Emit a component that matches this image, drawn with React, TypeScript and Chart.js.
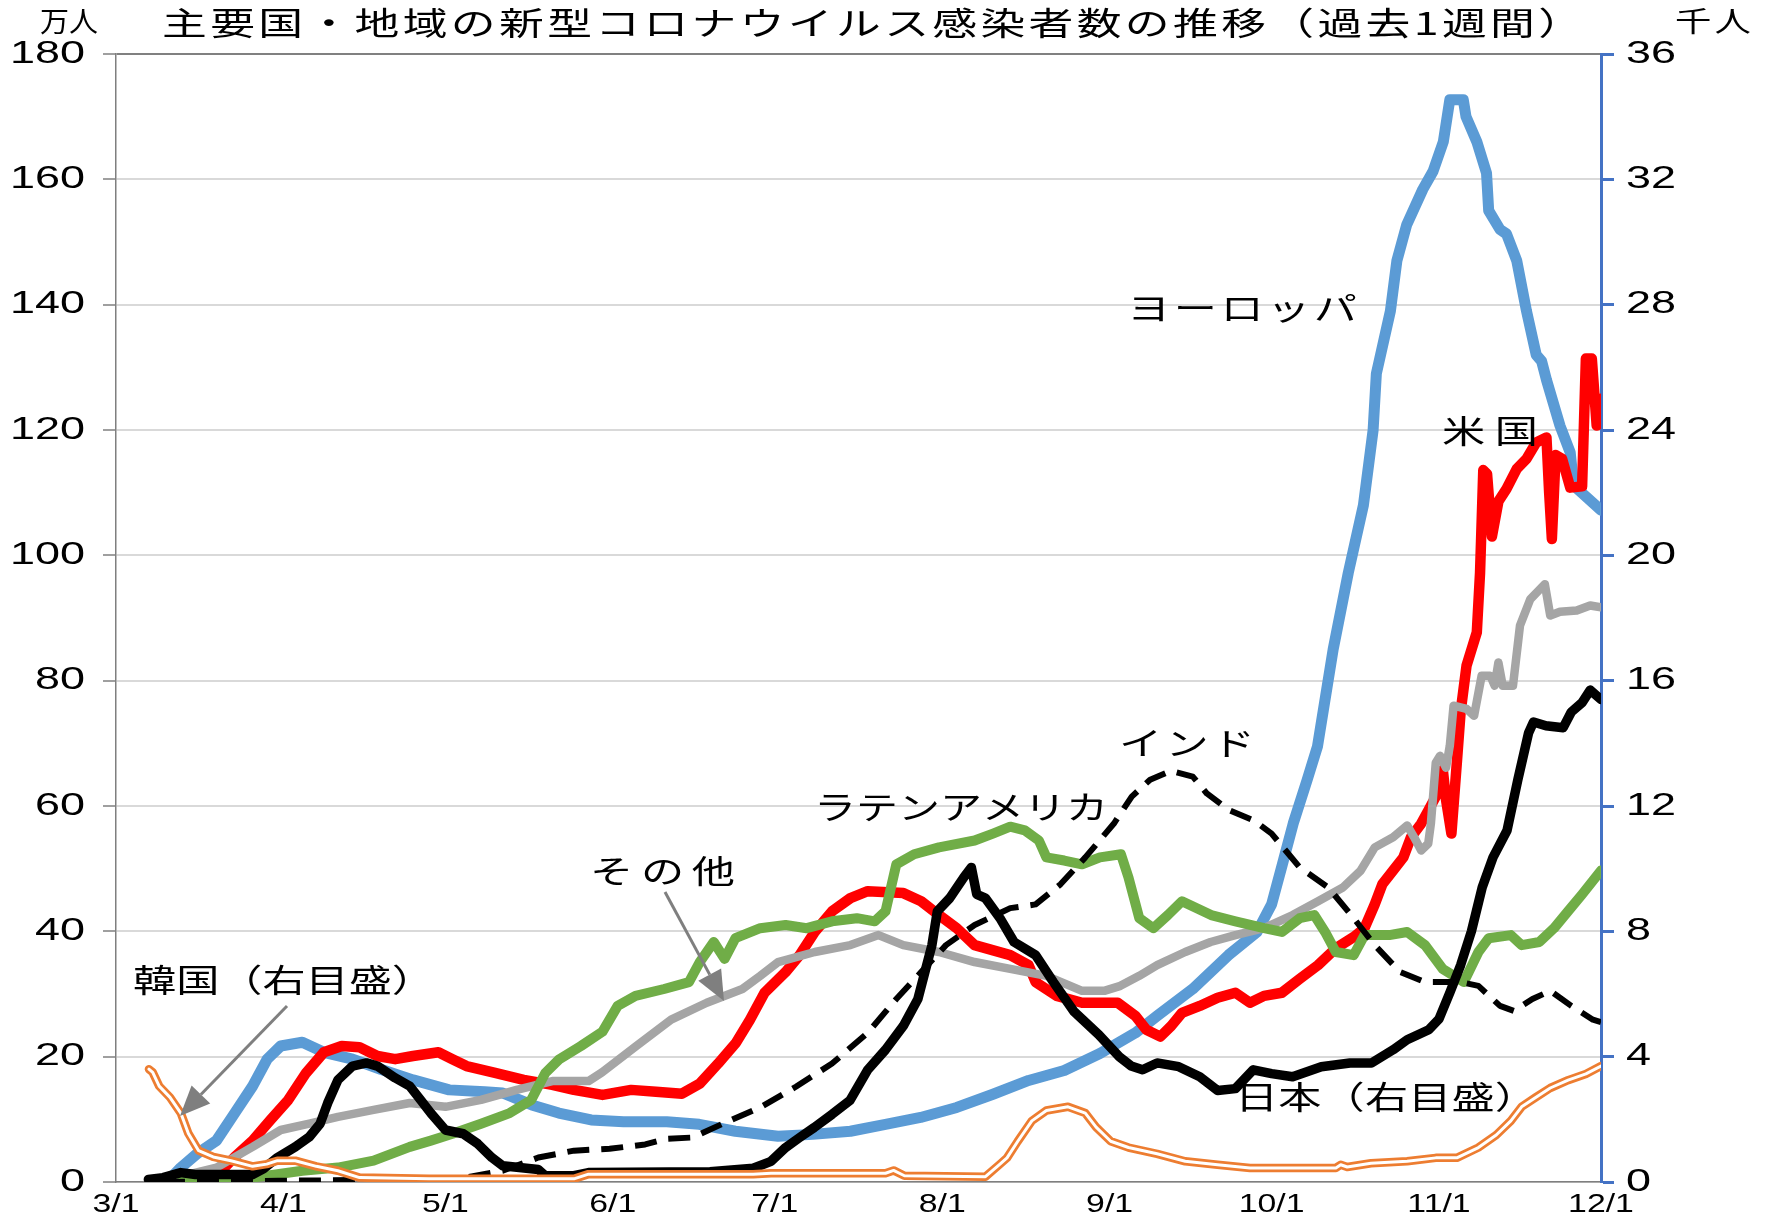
import React, { useEffect, useRef } from 'react';
import { Chart, registerables } from 'chart.js';

Chart.register(...registerables);

const W = 1773;
const H = 1215;

// x axis: days since 3/1
const monthDays = [0, 31, 61, 92, 122, 153, 184, 214, 245, 275];
const monthLabels = ['3/1', '4/1', '5/1', '6/1', '7/1', '8/1', '9/1', '10/1', '11/1', '12/1'];

// ヨーロッパ (万人, left)
const europeDays = [10, 12, 15, 18.6, 22, 25.3, 28, 30.5, 34.5, 38.5, 43.8, 49, 55, 61.7, 68.3, 71.6, 77, 82, 88, 94, 102, 108, 114.7, 122.6, 129, 136, 142.5, 149, 155.7, 162.4, 169, 175.6, 182.2, 188.8, 192.8, 199.4, 206, 211.3, 214, 216, 218, 220.6, 222.5, 225.4, 228.2, 231, 232.8, 233.4, 236, 237.2, 239, 242, 243.9, 245.8, 247, 249.5, 250, 252, 253.8, 254.2, 256.3, 257.5, 259.4, 261.2, 263, 264, 264.9, 267.4, 269.3, 269.9, 270.5, 275];
const europeVals = [0.5, 2.3, 4.5, 6.6, 11, 15.3, 19.6, 21.7, 22.3, 20.7, 19.6, 18, 16.3, 14.7, 14.4, 14.2, 12.3, 11, 9.9, 9.6, 9.6, 9.2, 8.1, 7.3, 7.6, 8.1, 9.2, 10.3, 11.9, 14, 16.2, 17.8, 20.5, 23.8, 26.5, 30.8, 36.2, 39.9, 44.3, 50.7, 57.2, 64.2, 69.5, 85, 97.2, 108, 120, 129, 139, 147, 152.7, 158.4, 161.3, 166, 172.7, 172.7, 170, 166, 161, 155, 152, 151.3, 147, 139, 132, 131, 128, 120.7, 116.4, 111.4, 110.7, 107.2];

// 米国 (万人, left)
const usDays = [15, 18.6, 22, 25.3, 28.6, 31.9, 35.2, 38.5, 41.8, 45.1, 48.4, 51.7, 55, 59.7, 62.3, 64.9, 70.2, 75.5, 80.8, 84.8, 90.1, 95.4, 100, 104.8, 108.1, 111.5, 114.8, 117.4, 120.1, 124, 126.6, 129.4, 132.6, 136, 139.2, 145.8, 149.1, 152.4, 155.7, 159, 165.6, 169, 170.3, 174.2, 178.9, 185.5, 188.8, 190.8, 193.4, 195.4, 197.4, 200.7, 204, 207.3, 210, 212.6, 215.9, 219.2, 222.6, 225.9, 229.2, 231.2, 233.1, 234.5, 236.5, 238.4, 239.8, 241.7, 243.1, 244.4, 245.7, 246.3, 247.3, 248.3, 249, 250.1, 252, 252.6, 253.2, 253.9, 254.8, 256, 257.5, 259.4, 261.2, 263, 264.9, 265.4, 265.9, 266.6, 267.8, 269.3, 271.5, 272.2, 273.3, 274.2, 275];
const usVals = [0.2, 1, 4, 6.6, 9.9, 13.1, 17.4, 20.7, 21.7, 21.5, 20.1, 19.6, 20.1, 20.7, 19.6, 18.5, 17.4, 16.3, 15.5, 14.7, 13.9, 14.7, 14.4, 14.1, 15.7, 18.9, 22.2, 25.9, 30.2, 33.5, 36.2, 39.9, 43.2, 45.3, 46.4, 46.1, 44.8, 42.6, 40.5, 37.8, 36.2, 34.6, 31.9, 29.7, 28.6, 28.6, 26.5, 24.3, 23.2, 24.9, 27, 28.1, 29.4, 30.2, 28.6, 29.7, 30.2, 32.4, 34.6, 37.3, 39.1, 40.5, 44.3, 47.5, 49.7, 51.8, 55, 57.2, 59.4, 61.5, 65.8, 61, 55.6, 66.9, 75, 82.4, 87.7, 97.2, 113.6, 113, 103, 108.6, 110.6, 113.8, 115.4, 118, 118.8, 110, 102.6, 116, 115.4, 110.8, 111, 131.4, 131.4, 120.7, 125];

// その他 (万人, left)
const otherDays = [8.7, 18.6, 25.3, 30.5, 35.8, 41.1, 47.7, 54.4, 61, 67.6, 74.2, 80.8, 87.5, 90, 96.2, 102.8, 109.4, 116, 119.3, 122.6, 129.4, 136, 141.2, 145.8, 152.4, 159, 165.6, 172.3, 178.9, 183, 186, 189.5, 192.8, 198, 202.7, 207.3, 212.6, 217.9, 222.6, 227.2, 230.5, 233.1, 236.5, 239.1, 240.4, 241.7, 243, 243.5, 244.4, 245.2, 246.3, 247, 247.7, 250.1, 251.5, 252.9, 254.5, 255.3, 256, 256.8, 258.7, 260, 261.9, 264.6, 265.6, 267.4, 270.5, 273, 275];
const otherVals = [0.2, 2.3, 5.6, 8.3, 9.3, 10.4, 11.5, 12.6, 12, 13.1, 14.7, 16.1, 16.1, 17.5, 21.6, 25.9, 28.6, 30.8, 32.9, 35.1, 36.7, 37.8, 39.4, 37.8, 36.7, 35.1, 34, 32.9, 30.5, 30.5, 31.3, 32.9, 34.6, 36.7, 38.3, 39.4, 40.5, 42.6, 44.8, 47, 49.7, 53.4, 55, 56.9, 55, 52.9, 54, 57.2, 66.9, 68, 66.1, 69.6, 76, 75.5, 74.4, 80.8, 80.8, 79.2, 82.9, 79.2, 79.2, 88.8, 93, 95.4, 90.4, 91, 91.2, 92, 91.7];

// ラテンアメリカ (万人, left)
const latamDays = [12, 25.3, 34.5, 41.1, 47.7, 54.4, 58.3, 62.3, 67.6, 72.9, 76.9, 79.5, 82.1, 86.1, 90.1, 92.9, 96.2, 101.5, 106.1, 108.1, 110.7, 112.7, 114.7, 119.3, 124, 127.9, 132.6, 137.2, 140.5, 142.5, 144.5, 147.8, 152.4, 159, 162.4, 165.6, 168.3, 170.9, 172.3, 175.6, 178.9, 182.2, 186.1, 187.5, 189.5, 192.1, 194.8, 197.4, 202.8, 207.3, 212.6, 215.9, 219.2, 221.9, 223.9, 225.9, 229.2, 231.2, 235.8, 239.1, 242.4, 245.7, 249.6, 252.3, 254.2, 258.3, 260.3, 263.6, 266.3, 268.9, 271.5, 275];
const latamVals = [0, 0.7, 1.8, 2.3, 3.4, 5.6, 6.6, 7.7, 9.3, 11, 13.1, 17.4, 19.6, 21.7, 24, 28.1, 29.7, 30.8, 31.9, 35.1, 38.3, 35.6, 38.9, 40.5, 41, 40.5, 41.6, 42.1, 41.6, 43.2, 50.7, 52.3, 53.4, 54.5, 55.6, 56.7, 56.1, 54.5, 51.8, 51.3, 50.7, 51.8, 52.3, 48.6, 42.1, 40.5, 42.6, 44.8, 42.6, 41.6, 40.5, 39.9, 42.1, 42.6, 39.9, 36.7, 36.2, 39.4, 39.4, 39.9, 37.8, 34, 31.9, 36.7, 38.9, 39.4, 37.8, 38.3, 40.5, 43.2, 45.9, 49.7];

// インド (万人, left)
const indiaDays = [8.7, 30, 58, 64.6, 71.6, 78.2, 84.8, 91.4, 98, 102, 106.8, 112.1, 119.3, 125.9, 132.6, 139.2, 144.5, 149.1, 153.7, 159, 165.6, 170.3, 174.9, 179.5, 184.8, 188.1, 191.5, 195.4, 199.4, 202, 206, 210.7, 214, 216.6, 219.2, 224.5, 229.2, 233.1, 237.8, 242.4, 249, 252.3, 256.3, 258.9, 262.3, 265.6, 269.5, 273.5, 275];
const indiaVals = [0, 0.2, 0.4, 0.7, 1.8, 3.9, 5, 5.3, 6, 6.9, 7.1, 9.2, 11.9, 15.2, 18.9, 23.8, 29.2, 33.5, 37.8, 41, 43.7, 44.3, 47.5, 51.8, 57.2, 61.5, 64.2, 65.6, 64.7, 62, 59.4, 57.7, 55.6, 52.9, 50.2, 47, 42.1, 37.8, 33.5, 31.9, 31.9, 31.3, 28.1, 27.3, 29.2, 30.5, 28.1, 25.9, 25.5];

// 日本 (千人, right)
const japanDays = [6, 8.7, 12, 14.7, 25.3, 27.3, 29.9, 33.2, 35.8, 37.8, 39.2, 41.1, 43.8, 46.4, 48.4, 51.7, 54.4, 56.4, 58.3, 61, 64.3, 67, 69.6, 71.6, 78.2, 79.5, 84.8, 87.5, 110, 118, 121.3, 124, 126.6, 129.3, 132.6, 135.9, 139.2, 142.5, 145.8, 148.5, 149.8, 151.1, 152.1, 154.4, 157, 158.4, 159.4, 161, 163.7, 166.3, 170.3, 173.6, 177.4, 182, 185.8, 188, 190.1, 192.8, 196.8, 200.7, 204, 207.3, 210.6, 214, 217.9, 223.2, 228.5, 232.5, 236.5, 239.1, 243.1, 245, 247, 249, 251, 253, 255, 257.6, 259.6, 261.6, 262.5, 264.8, 268, 269.5, 271.5, 273, 275];
const japanVals = [0.08, 0.14, 0.3, 0.24, 0.24, 0.42, 0.78, 1.12, 1.44, 1.86, 2.52, 3.26, 3.7, 3.8, 3.7, 3.32, 3.06, 2.62, 2.2, 1.66, 1.54, 1.22, 0.78, 0.52, 0.4, 0.2, 0.2, 0.3, 0.33, 0.44, 0.66, 1.1, 1.42, 1.74, 2.16, 2.6, 3.58, 4.22, 4.98, 5.84, 6.7, 7.56, 8.64, 9.06, 9.72, 10.04, 9.18, 9.06, 8.42, 7.66, 7.24, 6.38, 5.44, 4.7, 4.0, 3.7, 3.58, 3.8, 3.68, 3.36, 2.92, 2.98, 3.58, 3.46, 3.36, 3.68, 3.8, 3.8, 4.22, 4.54, 4.86, 5.2, 6.04, 6.92, 8.0, 9.4, 10.36, 11.22, 12.84, 14.34, 14.68, 14.56, 14.5, 15.0, 15.3, 15.7, 15.4];

// 韓国 (千人, right)
const koreaDays = [6.1, 6.8, 8, 10, 12, 13.4, 15.3, 18, 21.3, 25.3, 27.9, 29.9, 33.2, 37.1, 41.1, 45.1, 58, 78, 84.8, 87.5, 110, 118, 121.3, 142.5, 144, 146, 161, 163.7, 165, 167, 169.6, 172.3, 176.3, 179.5, 181.5, 184.2, 187.5, 192.8, 198, 204, 210, 225.9, 226.8, 228, 232.4, 239.1, 244.4, 248.3, 252.3, 255.6, 258.3, 260.3, 262.9, 265.6, 268.9, 272.2, 275];
const koreaVals = [3.6, 3.5, 3.06, 2.7, 2.2, 1.55, 1.0, 0.8, 0.68, 0.5, 0.57, 0.68, 0.68, 0.5, 0.36, 0.14, 0.1, 0.1, 0.1, 0.25, 0.25, 0.25, 0.28, 0.28, 0.37, 0.2, 0.17, 0.57, 0.77, 1.3, 1.95, 2.28, 2.4, 2.2, 1.75, 1.3, 1.1, 0.9, 0.66, 0.55, 0.45, 0.45, 0.55, 0.48, 0.6, 0.66, 0.77, 0.77, 1.1, 1.5, 1.95, 2.4, 2.7, 3.0, 3.25, 3.45, 3.7];

const TITLE = '主要国・地域の新型コロナウイルス感染者数の推移（過去1週間）';

const JP = '"Noto Sans CJK JP", "Noto Sans", sans-serif';
const LAT = '"Liberation Sans", Arial, sans-serif';

function pts(days: number[], vals: number[]) {
  return days.map((d, i) => ({ x: d, y: vals[i] }));
}

function drawFitted(ctx: CanvasRenderingContext2D, text: string, left: number, yc: number, size: number, target: number, family: string, sx: number, color = '#000') {
  ctx.save();
  ctx.font = `${size}px ${family}`;
  ctx.fillStyle = color;
  ctx.textBaseline = 'middle';
  ctx.textAlign = 'left';
  const chars = Array.from(text);
  const widths = chars.map((c) => ctx.measureText(c).width);
  const natural = widths.reduce((a, b) => a + b, 0);
  let s = sx;
  let gap = 0;
  if (natural * s > target) {
    s = target / natural;
  } else if (chars.length > 1) {
    gap = (target / s - natural) / (chars.length - 1);
  }
  ctx.translate(left, yc);
  ctx.scale(s, 1);
  let x = 0;
  chars.forEach((c, i) => {
    ctx.fillText(c, x, 0);
    x += widths[i] + gap;
  });
  ctx.restore();
}

function drawStretched(ctx: CanvasRenderingContext2D, text: string, x: number, yc: number, size: number, family: string, sx: number, align: 'left' | 'right' | 'center', color = '#000') {
  ctx.save();
  ctx.font = `${size}px ${family}`;
  ctx.fillStyle = color;
  ctx.textBaseline = 'middle';
  ctx.textAlign = align;
  ctx.translate(x, yc);
  ctx.scale(sx, 1);
  ctx.fillText(text, 0, 0);
  ctx.restore();
}

function arrow(ctx: CanvasRenderingContext2D, x1: number, y1: number, x2: number, y2: number) {
  const ang = Math.atan2(y2 - y1, x2 - x1);
  const len = 30;
  const hw = 13;
  const bx = x2 - len * Math.cos(ang);
  const by = y2 - len * Math.sin(ang);
  ctx.save();
  ctx.strokeStyle = '#7f7f7f';
  ctx.fillStyle = '#7f7f7f';
  ctx.lineWidth = 3;
  ctx.beginPath();
  ctx.moveTo(x1, y1);
  ctx.lineTo(bx, by);
  ctx.stroke();
  ctx.beginPath();
  ctx.moveTo(x2, y2);
  ctx.lineTo(bx + hw * Math.sin(ang), by - hw * Math.cos(ang));
  ctx.lineTo(bx - hw * Math.sin(ang), by + hw * Math.cos(ang));
  ctx.closePath();
  ctx.fill();
  ctx.restore();
}

const bgPlugin = {
  id: 'bg',
  beforeDraw(chart: any) {
    const ctx = chart.ctx;
    ctx.save();
    ctx.fillStyle = '#fff';
    ctx.fillRect(0, 0, chart.width, chart.height);
    ctx.restore();
  },
};

const textPlugin = {
  id: 'texts',
  afterDraw(chart: any) {
    const ctx: CanvasRenderingContext2D = chart.ctx;
    const ys = chart.scales.y;
    const yr = chart.scales.y1;
    const xs = chart.scales.x;
    ys.ticks.forEach((t: any) => {
      drawStretched(ctx, String(t.value), 85, ys.getPixelForValue(t.value), 31, LAT, 1.45, 'right');
    });
    yr.ticks.forEach((t: any) => {
      drawStretched(ctx, String(t.value), 1626, yr.getPixelForValue(t.value), 31, LAT, 1.45, 'left');
    });
    monthDays.forEach((d, i) => {
      drawStretched(ctx, monthLabels[i], xs.getPixelForValue(d), 1205, 26, LAT, 1.3, 'center');
    });
    drawFitted(ctx, '万人', 40, 21, 28, 58, JP, 1.1);
    drawFitted(ctx, '千人', 1675, 21, 28, 76, JP, 1.3);
    drawFitted(ctx, TITLE, 162, 23, 32, 1421, JP, 1.4);
    drawFitted(ctx, 'ヨーロッパ', 1127, 308, 32, 230, JP, 1.35);
    drawFitted(ctx, '米国', 1442, 431, 32, 96, JP, 1.35);
    drawFitted(ctx, 'インド', 1119, 743, 32, 136, JP, 1.35);
    drawFitted(ctx, 'ラテンアメリカ', 814, 807, 32, 294, JP, 1.35);
    drawFitted(ctx, 'その他', 590, 871, 32, 145, JP, 1.35);
    drawFitted(ctx, '韓国（右目盛）', 133, 980, 32, 302, JP, 1.35);
    drawFitted(ctx, '日本（右目盛）', 1235, 1097, 32, 303, JP, 1.35);
    arrow(ctx, 665, 892, 724, 1001);
    arrow(ctx, 287, 1006, 180, 1116);
  },
};

export default function App() {
  const ref = useRef<HTMLCanvasElement>(null);
  useEffect(() => {
    if (!ref.current) return;
    const base = { pointRadius: 0, tension: 0, borderJoinStyle: 'round' as const, borderCapStyle: 'round' as const, fill: false };
    const chart = new Chart(ref.current, {
      type: 'line',
      data: {
        datasets: [
          { ...base, label: '韓国inner', data: pts(koreaDays, koreaVals), borderColor: '#ffffff', borderWidth: 3, yAxisID: 'y1' },
          { ...base, label: '韓国', data: pts(koreaDays, koreaVals), borderColor: '#ED7D31', borderWidth: 8.5, yAxisID: 'y1' },
          { ...base, label: '日本', data: pts(japanDays, japanVals), borderColor: '#000000', borderWidth: 9.5, yAxisID: 'y1' },
          { ...base, label: 'インド', data: pts(indiaDays, indiaVals), borderColor: '#000000', borderWidth: 6, borderDash: [22, 12], borderCapStyle: 'butt' as const, yAxisID: 'y' },
          { ...base, label: 'ラテンアメリカ', data: pts(latamDays, latamVals), borderColor: '#70AD47', borderWidth: 10, yAxisID: 'y' },
          { ...base, label: 'その他', data: pts(otherDays, otherVals), borderColor: '#A5A5A5', borderWidth: 8.5, yAxisID: 'y' },
          { ...base, label: '米国', data: pts(usDays, usVals), borderColor: '#FF0000', borderWidth: 10.5, yAxisID: 'y' },
          { ...base, label: 'ヨーロッパ', data: pts(europeDays, europeVals), borderColor: '#5B9BD5', borderWidth: 11, yAxisID: 'y' },
        ],
      },
      options: {
        animation: false,
        responsive: false,
        maintainAspectRatio: false,
        layout: { padding: { top: 54, left: 0, right: 0, bottom: 0 } },
        plugins: { legend: { display: false }, tooltip: { enabled: false }, title: { display: false } },
        scales: {
          x: {
            type: 'linear',
            min: 0,
            max: 275,
            afterBuildTicks: (s: any) => {
              s.ticks = monthDays.map((v) => ({ value: v }));
            },
            ticks: { display: false },
            grid: { display: false, drawTicks: false },
            border: { display: true, color: '#7f7f7f', width: 1.5 },
            afterFit: (s: any) => {
              s.height = 33;
            },
          },
          y: {
            position: 'left',
            min: 0,
            max: 180,
            ticks: { stepSize: 20, display: false },
            grid: {
              color: (c: any) => (c.tick && c.tick.value === 180 ? '#808080' : '#d9d9d9'),
              lineWidth: 2,
              drawTicks: true,
              tickLength: 13,
              tickColor: '#7f7f7f',
              tickWidth: 1.5,
            },
            border: { color: '#7f7f7f', width: 1.5 },
            afterFit: (s: any) => {
              s.width = 116;
            },
          },
          y1: {
            position: 'right',
            min: 0,
            max: 36,
            ticks: { stepSize: 4, display: false },
            grid: { drawOnChartArea: false, drawTicks: true, tickLength: 13, tickColor: '#4472C4', tickWidth: 3 },
            border: { color: '#4472C4', width: 3 },
            afterFit: (s: any) => {
              s.width = 172;
            },
          },
        },
      } as any,
      plugins: [bgPlugin, textPlugin],
    });
    return () => chart.destroy();
  }, []);
  return (
    <div style={{ position: 'absolute', left: 0, top: 0, width: W, height: H }}>
      <canvas ref={ref} width={W} height={H} style={{ display: 'block', width: W, height: H }} />
    </div>
  );
}
